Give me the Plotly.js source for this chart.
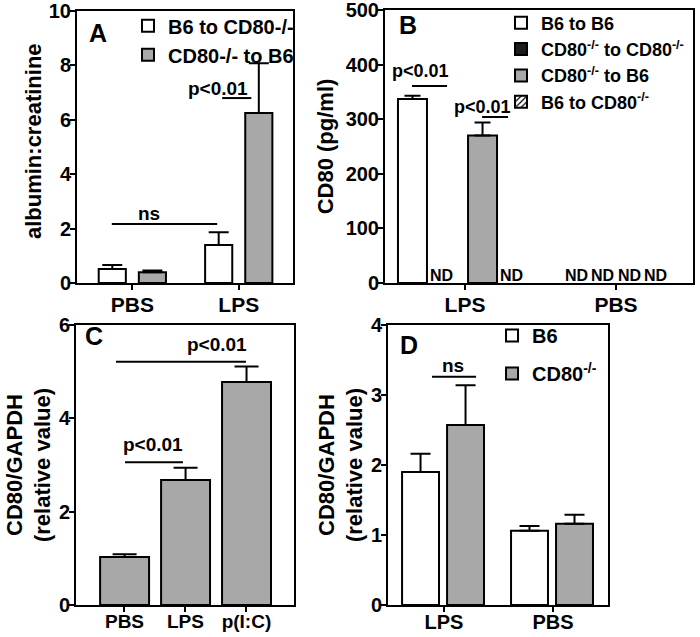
<!DOCTYPE html>
<html><head><meta charset="utf-8">
<script src="https://cdn.plot.ly/plotly-3.0.1.min.js"></script>
<style>html,body{margin:0;padding:0;background:#fff;} #chart{width:700px;height:637px;}</style>
</head><body><div id="chart"></div>
<script>
// ---------- data ----------
// Panel A
const aCategories = ['PBS', 'LPS'];
const aB6ToKO = [0.52, 1.40];
const aB6ToKOErr = [0.14, 0.47];
const aKOToB6 = [0.40, 6.25];
const aKOToB6Err = [0.06, 1.83];
// Panel B (null = ND)
const bCategories = ['LPS', 'PBS'];
const bB6ToB6 = [337, null];
const bB6ToB6Err = [6, null];
const bKOToKO = [null, null];
const bKOToB6 = [270, null];
const bKOToB6Err = [24, null];
const bB6ToKO = [null, null];
// Panel C
const cCategories = ['PBS', 'LPS', 'p(I:C)'];
const cValues = [1.03, 2.68, 4.78];
const cErr = [0.06, 0.26, 0.33];
// Panel D
const dCategories = ['LPS', 'PBS'];
const dB6 = [1.90, 1.06];
const dB6Err = [0.26, 0.07];
const dKO = [2.57, 1.16];
const dKOErr = [0.57, 0.13];

// ---------- style ----------
const FONT = 'Liberation Sans, Arial, Helvetica, sans-serif';
const GREY = '#a8a8a8';
const BLACKFILL = '#1c1c1c';

function bar(o) {
  const t = {
    type: 'bar', name: o.name, x: o.x, y: o.y,
    xaxis: o.xa, yaxis: o.ya, width: o.width, offset: o.offset,
    marker: { color: o.color, line: { color: 'black', width: 2 } },
    legend: o.legend, showlegend: o.showlegend !== false,
    legendgroup: o.group || o.name, hoverinfo: 'skip'
  };
  if (o.pattern) t.marker.pattern = o.pattern;
  if (o.err) {
    t.error_y = { type: 'data', symmetric: false, array: o.err,
      arrayminus: o.err.map(v => v == null ? null : 0),
      color: 'black', thickness: 2, width: o.errWidth || 10 };
  }
  return t;
}

const data = [
  // A
  bar({name: 'B6 to CD80-/-', x: aCategories, y: aB6ToKO, err: aB6ToKOErr, xa: 'x', ya: 'y', color: 'white', width: 0.255, offset: -0.316, legend: 'legend'}),
  bar({name: 'CD80-/- to B6', x: aCategories, y: aKOToB6, err: aKOToB6Err, xa: 'x', ya: 'y', color: GREY, width: 0.255, offset: 0.061, legend: 'legend'}),
  // B
  bar({name: 'B6 to B6', x: bCategories, y: bB6ToB6, err: bB6ToB6Err, xa: 'x2', ya: 'y2', color: 'white', width: 0.192, offset: -0.444, legend: 'legend2', errWidth: 8}),
  bar({name: 'CD80<sup>-/-</sup> to CD80<sup>-/-</sup>', x: bCategories, y: bKOToKO, xa: 'x2', ya: 'y2', color: BLACKFILL, width: 0.192, offset: -0.212, legend: 'legend2'}),
  bar({name: 'CD80<sup>-/-</sup> to B6', x: bCategories, y: bKOToB6, err: bKOToB6Err, xa: 'x2', ya: 'y2', color: GREY, width: 0.192, offset: 0.020, legend: 'legend2', errWidth: 8}),
  bar({name: 'B6 to CD80<sup>-/-</sup>', x: bCategories, y: bB6ToKO, xa: 'x2', ya: 'y2', color: 'white', width: 0.192, offset: 0.252, legend: 'legend2',
       pattern: {shape: '/', fgcolor: 'black', bgcolor: 'white', size: 5, solidity: 0.3}}),
  // C
  bar({name: 'C', x: cCategories, y: cValues, err: cErr, xa: 'x3', ya: 'y3', color: GREY, width: 0.803, offset: -0.40, showlegend: false, errWidth: 12}),
  // D
  bar({name: 'B6', x: dCategories, y: dB6, err: dB6Err, xa: 'x4', ya: 'y4', color: 'white', width: 0.339, offset: -0.385, legend: 'legend3'}),
  bar({name: 'CD80<sup>-/-</sup>', x: dCategories, y: dKO, err: dKOErr, xa: 'x4', ya: 'y4', color: GREY, width: 0.339, offset: 0.028, legend: 'legend3'})
];

function xax(domain, range, anchor, fs, stand) {
  return { domain: domain, range: range, anchor: anchor, type: 'category',
    showline: true, mirror: true, linecolor: 'black', linewidth: 2,
    ticks: 'outside', ticklen: 5, tickwidth: 2, tickcolor: 'black', ticklabelstandoff: stand,
    ticklabeloverflow: 'allow',
    tickfont: {family: FONT, size: fs, color: 'black', weight: 'bold'},
    showgrid: false, zeroline: false, fixedrange: true, automargin: false };
}
function yax(domain, range, dtick, anchor, title, tfs, standoff) {
  return { domain: domain, range: range, dtick: dtick, tick0: 0, anchor: anchor,
    showline: true, mirror: true, linecolor: 'black', linewidth: 2,
    ticks: 'outside', ticklen: 5, tickwidth: 2, tickcolor: 'black', ticklabelstandoff: -5,
    ticklabeloverflow: 'allow',
    tickfont: {family: FONT, size: 20, color: 'black', weight: 'bold'},
    title: {text: title, font: {family: FONT, size: tfs, color: 'black', weight: 'bold'}, standoff: standoff},
    showgrid: false, zeroline: false, fixedrange: true, automargin: false };
}

const shapes = [];
const annotations = [];
function sig(xa, ya, x0, x1, y, text, tx, ty, fs) {
  shapes.push({type: 'line', xref: xa, yref: ya, x0: x0, x1: x1, y0: y, y1: y, line: {color: 'black', width: 2}});
  annotations.push({xref: xa, yref: ya, x: tx, y: ty, text: text, showarrow: false,
    xanchor: 'center', yanchor: 'middle', font: {family: FONT, size: fs, color: 'black', weight: 'bold'}});
}
// significance marks
sig('x', 'y', -0.193, 0.797, 2.17, 'ns', 0.156, 2.55, 19);
sig('x', 'y', 0.844, 1.118, 6.80, 'p<0.01', 0.807, 7.15, 19);
sig('x2', 'y2', -0.351, -0.119, 361, 'p<0.01', -0.298, 388, 18);
sig('x2', 'y2', 0.113, 0.285, 304, 'p<0.01', 0.119, 322, 18);
sig('x3', 'y3', 0.008, 0.959, 3.06, 'p<0.01', 0.467, 3.43, 19);
sig('x3', 'y3', -0.139, 1.992, 5.21, 'p<0.01', 1.516, 5.58, 19);
sig('x4', 'y4', -0.11, 0.294, 3.26, 'ns', 0.083, 3.42, 19);

// panel letters
[['A', 'x', 'y', 0.046, 0.919], ['B', 'x2', 'y2', 0.039, 0.945], ['C', 'x3', 'y3', 0.032, 0.962], ['D', 'x4', 'y4', 0.045, 0.929]]
  .forEach(p => annotations.push({xref: p[1] + ' domain', yref: p[2] + ' domain', x: p[3], y: p[4], text: p[0],
    showarrow: false, xanchor: 'left', yanchor: 'middle', font: {family: FONT, size: 25, color: 'black', weight: 'bold'}}));

// panel A y-axis title (placed closer to the tick labels than the axis title standoff allows)
annotations.push({xref: 'paper', yref: 'paper', x: 33 / 700, y: 0.7786, xanchor: 'center', yanchor: 'middle',
  textangle: -90, text: 'albumin:creatinine', showarrow: false,
  font: {family: FONT, size: 22, color: 'black', weight: 'bold'}});

// ND labels for panel B (non-detected values)
const bSeries = [bB6ToB6, bKOToKO, bKOToB6, bB6ToKO];
const bSlotCenters = [-0.348, -0.116, 0.116, 0.348];
bCategories.forEach((cat, ci) => {
  const allND = bSeries.every(s => s[ci] == null);
  bSeries.forEach((s, ti) => {
    if (s[ci] == null) {
      annotations.push({xref: 'x2', yref: 'y2', x: ci + bSlotCenters[ti] * (allND ? 0.76 : 1), y: 0,
        xshift: allND ? 0 : -6, yanchor: 'bottom', yshift: -3, text: 'ND', showarrow: false,
        font: {family: FONT, size: 16, color: 'black', weight: 'bold'}});
    }
  });
});

const legendBase = {bgcolor: 'rgba(0,0,0,0)', borderwidth: 0, xanchor: 'left', yanchor: 'top',
  traceorder: 'grouped', itemclick: false, itemdoubleclick: false};

const layout = {
  width: 700, height: 637, margin: {l: 0, r: 0, t: 0, b: 0},
  paper_bgcolor: 'white', plot_bgcolor: 'white', barmode: 'overlay', showlegend: true,
  font: {family: FONT, color: 'black'},
  xaxis: xax([0.110, 0.4186], [-0.52, 1.51], 'y', 21, -3),
  yaxis: yax([0.5557, 0.9827], [0, 10], 2, 'x', '', 22, 0),
  xaxis2: xax([0.550, 0.990], [-0.53, 1.51], 'y2', 21, -3),
  yaxis2: yax([0.5557, 0.9843], [0, 500], 100, 'x2', 'CD80 (pg/ml)', 22, 6),
  xaxis3: xax([0.1086, 0.420], [-0.795, 2.78], 'y3', 19, -7),
  yaxis3: yax([0.0502, 0.4898], [0, 6], 2, 'x3', 'CD80/GAPDH<br>(relative value)', 22, 2),
  xaxis4: xax([0.5543, 0.8686], [-0.514, 1.505], 'y4', 20, -7),
  yaxis4: yax([0.0502, 0.4898], [0, 4], 1, 'x4', 'CD80/GAPDH<br>(relative value)', 22, 2),
  legend: Object.assign({}, legendBase, {x: 0.1829, y: 0.990, tracegroupgap: 0, font: {family: FONT, size: 20, color: 'black', weight: 'bold'}}),
  legend2: Object.assign({}, legendBase, {x: 0.7157, y: 0.993, tracegroupgap: 0, font: {family: FONT, size: 18, color: 'black', weight: 'bold'}}),
  legend3: Object.assign({}, legendBase, {x: 0.7029, y: 0.504, tracegroupgap: 9, font: {family: FONT, size: 20, color: 'black', weight: 'bold'}}),
  shapes: shapes, annotations: annotations
};

Plotly.newPlot('chart', data, layout, {displayModeBar: false, staticPlot: true});
</script>
</body></html>
